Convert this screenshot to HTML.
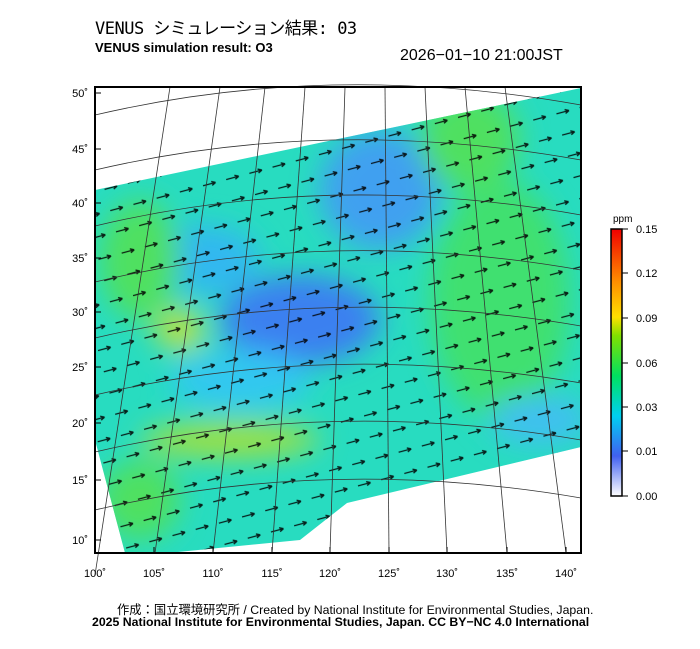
<!DOCTYPE html>
<html><head><meta charset="utf-8"><style>
body{margin:0;background:#fff;width:700px;height:649px;overflow:hidden;position:relative;font-family:"Liberation Sans","Noto Sans CJK JP",sans-serif}
.t{position:absolute;white-space:nowrap}
</style></head><body>
<div class="t" style="left:95px;top:14px;font-size:17px;font-family:'DejaVu Sans Mono','Noto Sans CJK JP',monospace;letter-spacing:-0.5px">VENUS シミュレーション結果: 03</div>
<div class="t" style="left:95px;top:40px;font-size:13px;font-weight:bold">VENUS simulation result: O3</div>
<div class="t" style="left:400px;top:47px;font-size:16px">2026−01−10 21:00JST</div>
<svg width="700" height="649" style="position:absolute;left:0;top:0">
<defs>
<filter id="b"><feGaussianBlur stdDeviation="14"/></filter>
<clipPath id="c"><polygon points="95,190 581,88 581,447 347,503 300,540 178,552 125,553 95,440"/></clipPath>
<pattern id="ar" width="24" height="22" patternUnits="userSpaceOnUse" patternTransform="rotate(-15)">
<path d="M4,12 L17,12 M17,12 l-4,-2 M17,12 l-4,2" stroke="#000" stroke-width="1.3" fill="none"/>
</pattern>
<linearGradient id="cb" x1="0" y1="1" x2="0" y2="0">
<stop offset="0" stop-color="#fff"/><stop offset="0.15" stop-color="#4060f0"/><stop offset="0.3" stop-color="#00d0f0"/><stop offset="0.45" stop-color="#00e060"/><stop offset="0.6" stop-color="#80e000"/><stop offset="0.67" stop-color="#ffe000"/><stop offset="0.8" stop-color="#ff9000"/><stop offset="1" stop-color="#f00000"/>
</linearGradient>
</defs>
<g clip-path="url(#c)">
<rect x="90" y="80" width="500" height="480" fill="#28dcc0"/>
<g filter="url(#b)">
<ellipse cx="300" cy="320" rx="80" ry="45" fill="#3a80f0"/>
<ellipse cx="380" cy="190" rx="60" ry="60" fill="#40a0f0"/>
<ellipse cx="200" cy="260" rx="60" ry="35" fill="#30b8f0"/>
<ellipse cx="240" cy="380" rx="70" ry="30" fill="#30c8f0"/>
<ellipse cx="500" cy="300" rx="70" ry="120" fill="#40e070"/>
<ellipse cx="230" cy="440" rx="90" ry="18" fill="#a0e040"/>
<ellipse cx="140" cy="260" rx="40" ry="60" fill="#50e060"/>
<ellipse cx="180" cy="330" rx="25" ry="20" fill="#c0e040"/>
<ellipse cx="470" cy="140" rx="50" ry="50" fill="#50e060"/>
<ellipse cx="140" cy="500" rx="40" ry="40" fill="#50e060"/>
<ellipse cx="540" cy="420" rx="50" ry="25" fill="#40c0f0"/>
</g>
<rect x="90" y="80" width="500" height="480" fill="url(#ar)" opacity="0.85"/>
</g>
<g stroke="#333" stroke-width="0.8" fill="none">
<path d="M95,115 Q330,60 581,105"/><path d="M95,170 Q330,115 581,160"/><path d="M95,226 Q330,170 581,215"/><path d="M95,282 Q330,226 581,270"/><path d="M95,338 Q330,283 581,326"/><path d="M95,395 Q330,340 581,383"/><path d="M95,452 Q330,397 581,440"/><path d="M95,510 Q330,455 581,498"/>
<path d="M95,575 L170,87"/><path d="M155,553 L220,87"/><path d="M213,553 L265,87"/><path d="M272,553 L305,87"/><path d="M330,553 L345,87"/><path d="M389,553 L385,87"/><path d="M447,553 L425,87"/><path d="M507,553 L465,87"/><path d="M566,553 L505,87"/>
</g>
<rect x="95" y="87" width="486" height="466" fill="none" stroke="#000" stroke-width="2"/>
<rect x="611" y="229" width="11" height="267" fill="url(#cb)" stroke="#000" stroke-width="1.5"/>
<g stroke="#000" stroke-width="1"><path d="M622,229h6M622,273h6M622,318h6M622,363h6M622,407h6M622,451h6M622,496h6"/>
<path d="M95,93h6M95,149h6M95,203h6M95,258h6M95,312h6M95,367h6M95,423h6M95,480h6M95,540h6"/>
<path d="M95,553v-6M154,553v-6M213,553v-6M272,553v-6M330,553v-6M389,553v-6M447,553v-6M507,553v-6M566,553v-6"/></g>
<g font-size="11" font-family="Liberation Sans,sans-serif">
<text x="613" y="222" font-size="10">ppm</text>
<text x="636" y="233">0.15</text><text x="636" y="277">0.12</text><text x="636" y="322">0.09</text><text x="636" y="367">0.06</text><text x="636" y="411">0.03</text><text x="636" y="455">0.01</text><text x="636" y="500">0.00</text>
<g text-anchor="end"><text x="88" y="97">50˚</text><text x="88" y="153">45˚</text><text x="88" y="207">40˚</text><text x="88" y="262">35˚</text><text x="88" y="316">30˚</text><text x="88" y="371">25˚</text><text x="88" y="427">20˚</text><text x="88" y="484">15˚</text><text x="88" y="544">10˚</text></g>
<g text-anchor="middle"><text x="95" y="577">100˚</text><text x="154" y="577">105˚</text><text x="213" y="577">110˚</text><text x="272" y="577">115˚</text><text x="330" y="577">120˚</text><text x="389" y="577">125˚</text><text x="447" y="577">130˚</text><text x="507" y="577">135˚</text><text x="566" y="577">140˚</text></g>
</g>
</svg>
<div class="t" style="left:117px;top:600px;font-size:12.3px">作成：国立環境研究所 / Created by National Institute for Environmental Studies, Japan.</div>
<div class="t" style="left:92px;top:615px;font-size:12.3px;font-weight:bold">2025 National Institute for Environmental Studies, Japan. CC BY−NC 4.0 International</div>
</body></html>
